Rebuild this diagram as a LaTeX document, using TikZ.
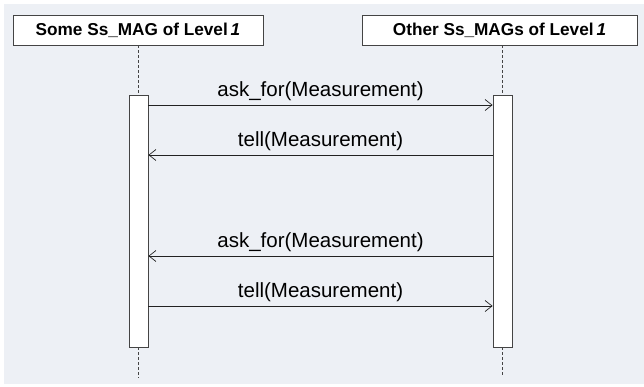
\documentclass[tikz,border=0pt]{standalone}
\usepackage{fontspec}
\setmainfont{Liberation Sans}
\usetikzlibrary{arrows.meta}
\definecolor{panel}{HTML}{EDF0F5}
\definecolor{edge}{HTML}{444444}
\definecolor{wire}{HTML}{222222}
\begin{document}
\begin{tikzpicture}[x=1pt,y=-1pt,
  head/.style={draw=edge, fill=white, line width=0.8pt, minimum height=30pt,
    inner sep=0pt, font=\bfseries\fontsize{17.2}{21}\selectfont},
  actbox/.style={draw=edge, fill=white, line width=0.8pt, minimum width=19pt,
    minimum height=252pt, inner sep=0pt},
  lifeline/.style={draw=edge, line width=0.7pt, dash pattern=on 3pt off 2pt},
  msg/.style={draw=wire, line width=0.7pt, -{Straight Barb[length=7pt,width=11pt,line width=0.7pt]}},
  msglabel/.style={above, inner sep=0pt, yshift=8pt, text depth=0pt,
    font=\fontsize{20.5}{24}\selectfont, text=black}]
  \useasboundingbox (0,0) rectangle (644,386);
  \fill[panel] (4,4) rectangle (644,384);

  % lifeline heads
  \node[head, minimum width=250pt] (lhead) at (138,30) {Some Ss\_MAG of Level\,\textit{1}};
  \node[head, minimum width=275pt] (rhead) at (499.5,30) {Other Ss\_MAGs of Level\,\textit{1}};

  % activation bars
  \node[actbox] (lact) at (138.5,221) {};
  \node[actbox] (ract) at (502.5,221) {};

  % lifeline stubs above and below the bars
  \coordinate (lend) at (138.5,378);
  \coordinate (rend) at (502.5,376);
  \draw[lifeline] (lact.north |- lhead.south) -- (lact.north);
  \draw[lifeline] (lact.south) -- (lend);
  \draw[lifeline] (ract.north |- rhead.south) -- (ract.north);
  \draw[lifeline] (ract.south) -- (rend);

  % messages
  \draw[msg] (lact.east |- 0,105) -- (ract.west |- 0,105)
    node[msglabel, midway] {ask\_for(Measurement)};
  \draw[msg] (ract.west |- 0,155) -- (lact.east |- 0,155)
    node[msglabel, midway] {tell(Measurement)};
  \draw[msg] (ract.west |- 0,256) -- (lact.east |- 0,256)
    node[msglabel, midway] {ask\_for(Measurement)};
  \draw[msg] (lact.east |- 0,306) -- (ract.west |- 0,306)
    node[msglabel, midway] {tell(Measurement)};
\end{tikzpicture}
\end{document}
